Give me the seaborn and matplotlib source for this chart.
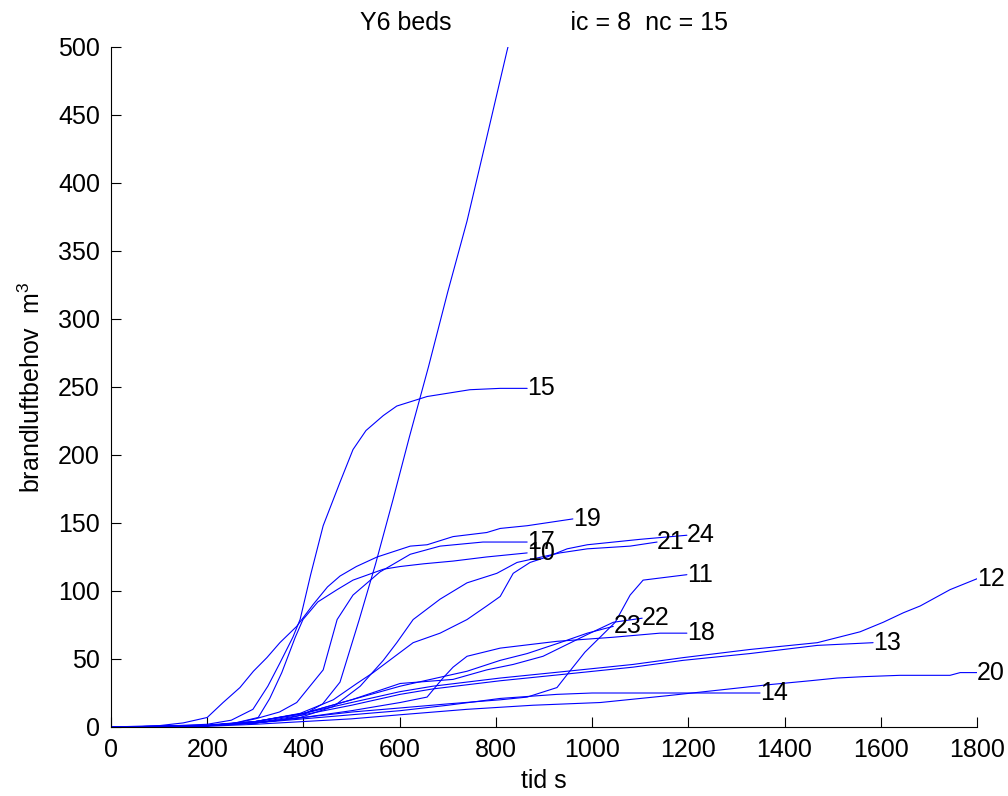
import numpy as np
import pandas as pd
import matplotlib
matplotlib.use("Agg")
import matplotlib.pyplot as plt
import seaborn as sns

# ── Data ──────────────────────────────────────────────────────────────────────
t10 = [0, 100, 200, 258, 282, 306, 330, 355, 383, 399, 430, 470, 503, 566, 601, 650, 711, 780, 865]
v10 = [0, 0.5, 1.5, 3, 5, 7, 21, 40, 66, 79, 92, 101, 108, 116, 118, 120, 122, 125, 128]

t11 = [0, 100, 200, 300, 400, 500, 601, 700, 809, 865, 927, 958, 985, 1048, 1079, 1106, 1197]
v11 = [0, 0.3, 1, 3, 7, 11, 14, 17, 20, 22, 29, 43, 55, 77, 97, 108, 112]

t12 = [0, 100, 200, 300, 400, 500, 601, 669, 809, 948, 1085, 1189, 1328, 1468, 1557, 1605, 1647, 1682, 1744, 1800]
v12 = [0, 0.3, 1, 4, 10, 18, 26, 30, 36, 41, 46, 51, 57, 62, 70, 77, 84, 89, 101, 109]

t13 = [0, 100, 200, 300, 400, 500, 601, 669, 809, 948, 1085, 1189, 1328, 1468, 1584]
v13 = [0, 0.3, 1, 3, 9, 16, 24, 28, 34, 39, 44, 49, 54, 60, 62]

t14 = [0, 100, 200, 300, 400, 500, 601, 700, 809, 927, 1000, 1204, 1349]
v14 = [0, 0.2, 1, 3, 6, 9, 12, 16, 21, 24, 25, 25, 25]

t15 = [0, 100, 200, 250, 295, 326, 351, 378, 393, 415, 441, 476, 503, 530, 566, 594, 657, 746, 809, 865]
v15 = [0, 0.5, 2, 5, 13, 30, 47, 66, 79, 112, 148, 180, 204, 218, 229, 236, 243, 248, 249, 249]

t16 = [0, 100, 200, 300, 350, 400, 440, 476, 516, 550, 586, 620, 660, 700, 740, 780, 823, 880]
v16 = [0, 0.5, 1, 3, 5, 9, 17, 33, 79, 120, 167, 213, 265, 320, 372, 432, 497, 578]

t17 = [0, 100, 200, 260, 300, 350, 386, 441, 470, 503, 559, 622, 684, 773, 865]
v17 = [0, 0.5, 1, 3, 6, 11, 18, 42, 79, 97, 114, 127, 133, 136, 136]

t18 = [0, 100, 200, 300, 400, 500, 601, 657, 690, 711, 740, 809, 927, 1044, 1141, 1197]
v18 = [0, 0.3, 1, 3, 7, 12, 18, 22, 36, 44, 52, 58, 63, 66, 69, 69]

t19 = [0, 100, 150, 200, 233, 268, 296, 324, 351, 386, 420, 450, 476, 510, 553, 622, 657, 711, 781, 809, 865, 960]
v19 = [0, 1, 3, 7, 18, 29, 41, 51, 62, 74, 90, 103, 111, 118, 125, 133, 134, 140, 143, 146, 148, 153]

t20 = [0, 100, 200, 300, 400, 500, 601, 740, 877, 1017, 1156, 1260, 1364, 1453, 1509, 1563, 1640, 1744, 1765, 1800]
v20 = [0, 0.2, 0.5, 2, 4, 6, 9, 13, 16, 18, 23, 27, 31, 34, 36, 37, 38, 38, 40, 40]

t21 = [0, 100, 200, 300, 393, 462, 518, 566, 594, 628, 684, 740, 802, 844, 933, 990, 1079, 1135]
v21 = [0, 0.5, 1, 3, 7, 15, 30, 49, 62, 79, 94, 106, 113, 121, 128, 131, 133, 136]

t22 = [0, 100, 200, 300, 400, 500, 601, 711, 781, 836, 898, 990, 1044, 1104]
v22 = [0, 0.3, 1, 4, 10, 20, 32, 35, 42, 46, 52, 68, 77, 80]

t23 = [0, 100, 200, 300, 400, 500, 601, 740, 809, 865, 933, 990, 1044]
v23 = [0, 0.3, 1, 4, 10, 20, 30, 41, 49, 54, 62, 69, 74]

t24 = [0, 100, 200, 300, 393, 462, 511, 545, 594, 628, 684, 740, 781, 809, 836, 871, 906, 948, 990, 1100, 1197]
v24 = [0, 0.5, 1, 4, 10, 20, 32, 40, 53, 62, 69, 79, 89, 96, 113, 121, 125, 131, 134, 138, 141]

series = {
    "10": (t10, v10), "11": (t11, v11), "12": (t12, v12), "13": (t13, v13),
    "14": (t14, v14), "15": (t15, v15), "16": (t16, v16), "17": (t17, v17),
    "18": (t18, v18), "19": (t19, v19), "20": (t20, v20), "21": (t21, v21),
    "22": (t22, v22), "23": (t23, v23), "24": (t24, v24),
}

TITLE = "Y6 beds" + " " * 17 + "ic = 8  nc = 15"
XTICKS = list(range(0, 1801, 200))
YTICKS = list(range(0, 501, 50))
XMAX, YMAX = 1800, 500

# ── Style ─────────────────────────────────────────────────────────────────────
sns.set_style("ticks")
plt.rcParams["font.family"] = ["Liberation Sans", "DejaVu Sans"]
plt.rcParams["text.color"] = "black"
plt.rcParams["axes.labelcolor"] = "black"
plt.rcParams["mathtext.fontset"] = "custom"
plt.rcParams["mathtext.rm"] = "Liberation Sans"
plt.rcParams["mathtext.it"] = "Liberation Sans"

frames = []
for name, (t, v) in series.items():
    frames.append(pd.DataFrame({"t": t, "v": v, "id": name}))
df = pd.concat(frames, ignore_index=True)

fig = plt.figure(figsize=(10.08, 7.96), dpi=100)
ax = fig.add_axes([111 / 1008, 69 / 796, 866 / 1008, 680 / 796])

sns.lineplot(data=df, x="t", y="v", units="id", estimator=None, sort=False,
             color="#0000ff", linewidth=0.8, ax=ax, legend=False)

# curve labels at the last point of each curve (curves leaving the box get none shown)
for name, (t, v) in series.items():
    if v[-1] > YMAX:
        continue
    ax.text(t[-1], v[-1], name, fontsize=18, ha="left", va="center",
            color="black", clip_on=False)

ax.set_xlim(0, XMAX)
ax.set_ylim(0, YMAX)
ax.set_xticks(XTICKS)
ax.set_yticks(YTICKS)
ax.tick_params(direction="in", length=7, width=0.8, labelsize=18, pad=8,
               colors="black")
sns.despine(ax=ax)
for s in ["left", "bottom"]:
    ax.spines[s].set_linewidth(0.8)
    ax.spines[s].set_color("black")

ax.set_title(TITLE, fontsize=18, pad=12, color="black")
ax.set_xlabel("tid s", fontsize=18, labelpad=5, color="black")
ax.set_ylabel(r"brandluftbehov  m$^3$", fontsize=18, labelpad=9, color="black")

fig.savefig("out.png", dpi=100)
